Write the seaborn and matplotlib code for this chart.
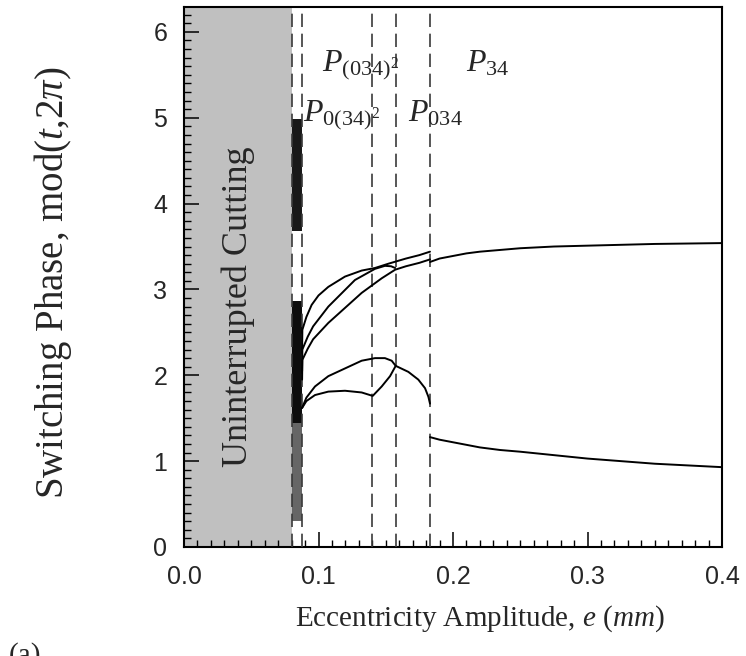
import numpy as np
import pandas as pd
import matplotlib
matplotlib.use("Agg")
import matplotlib.pyplot as plt
from matplotlib.ticker import MultipleLocator, FormatStrFormatter
import seaborn as sns

# switching-phase branches (e in mm, phase in rad)
c1_e = [0.0878, 0.0880, 0.0910, 0.0949, 0.1000, 0.1073, 0.1197, 0.1321, 0.1420, 0.1520, 0.1650, 0.1750, 0.1829]
c1_y = [2.30, 2.53, 2.68, 2.82, 2.93, 3.03, 3.15, 3.22, 3.25, 3.30, 3.36, 3.40, 3.44]
c2_e = [0.0878, 0.0880, 0.0920, 0.0960, 0.1073, 0.1271, 0.1420, 0.1494, 0.1540, 0.1570]
c2_y = [2.05, 2.30, 2.45, 2.57, 2.80, 3.11, 3.24, 3.275, 3.27, 3.25]
c3_e = [0.0878, 0.0880, 0.0920, 0.0960, 0.1073, 0.1321, 0.1470, 0.1570, 0.1650, 0.1750, 0.1829]
c3_y = [1.95, 2.18, 2.31, 2.42, 2.61, 2.96, 3.13, 3.23, 3.27, 3.31, 3.35]
c4_e = [0.0878, 0.0910, 0.0974, 0.1073, 0.1197, 0.1321, 0.1420, 0.1494, 0.1544, 0.1574,
        0.1668, 0.1742, 0.1792, 0.1817, 0.1829]
c4_y = [1.62, 1.74, 1.87, 1.99, 2.08, 2.17, 2.20, 2.20, 2.17, 2.11, 2.04, 1.95, 1.85, 1.75, 1.67]
c5_e = [0.0878, 0.0910, 0.0974, 0.1073, 0.1197, 0.1321, 0.1403, 0.1470, 0.1532, 0.1574]
c5_y = [1.62, 1.70, 1.77, 1.81, 1.82, 1.80, 1.76, 1.87, 1.99, 2.11]
p34_e = [0.1829, 0.1900, 0.2000, 0.2100, 0.2200, 0.2350, 0.2500, 0.2750, 0.3000, 0.3500, 0.4000]
p34_hi = [3.32, 3.36, 3.39, 3.42, 3.44, 3.46, 3.48, 3.50, 3.51, 3.53, 3.54]
p34_lo = [1.28, 1.25, 1.22, 1.19, 1.16, 1.13, 1.11, 1.07, 1.03, 0.97, 0.93]

# chaotic band just after contact is lost: (y low, y high, shade)
chaos_e = [0.0801, 0.0880]
chaos_lo = [3.68, 1.45, 0.30]
chaos_hi = [4.98, 2.86, 1.45]
chaos_alpha = [0.9, 0.95, 0.6]

# boundaries between periodic regimes
bounds = [0.0803, 0.0877, 0.1400, 0.1574, 0.1829]
contact_end = 0.0803

regime_labels = [r"$P_{(034)^2}$", r"$P_{0(34)^2}$", r"$P_{034}$", r"$P_{34}$"]
regime_e = [0.1026, 0.0884, 0.1668, 0.2097]
regime_y = [5.54, 4.96, 4.96, 5.54]

branches = {"c1": (c1_e, c1_y), "c2": (c2_e, c2_y), "c3": (c3_e, c3_y),
            "c4": (c4_e, c4_y), "c5": (c5_e, c5_y),
            "p34_hi": (p34_e, p34_hi), "p34_lo": (p34_e, p34_lo)}
df = pd.concat([pd.DataFrame({"e": e, "phase": y, "branch": k})
                for k, (e, y) in branches.items()], ignore_index=True)

sns.set_style("ticks")
plt.rcParams["font.family"] = ["Liberation Sans", "DejaVu Sans"]
plt.rcParams["mathtext.fontset"] = "custom"
plt.rcParams["mathtext.rm"] = "Liberation Serif"
plt.rcParams["mathtext.it"] = "Liberation Serif:italic"
plt.rcParams["mathtext.bf"] = "Liberation Serif:bold"
serif = ["Liberation Serif", "DejaVu Serif"]

fig = plt.figure(figsize=(7.46, 6.56), dpi=100)
ax = fig.add_axes([184 / 746, 109 / 656, 538 / 746, 540 / 656])

# uninterrupted-cutting zone
ax.axvspan(0, contact_end, color="#c0c0c0", lw=0, zorder=0)
ax.text(contact_end / 2, 2.8, "Uninterrupted Cutting", rotation=90,
        ha="center", va="center", fontsize=26, family=serif)

for lo, hi, a in zip(chaos_lo, chaos_hi, chaos_alpha):
    ax.fill_between(chaos_e, [lo, lo], [hi, hi], color="black", alpha=a, lw=0, zorder=2)

for b in bounds:
    ax.axvline(b, color="#3a3a3a", lw=1.2, dashes=(8, 4), zorder=3)

sns.lineplot(data=df, x="e", y="phase", units="branch", estimator=None,
             sort=False, color="black", lw=1.4, ax=ax, zorder=4)

for lab, x, y in zip(regime_labels, regime_e, regime_y):
    ax.text(x, y, lab, fontsize=23, ha="left", va="baseline")

ax.set_xlim(0, 0.4)
ax.set_ylim(0, 6.29)
ax.xaxis.set_major_locator(MultipleLocator(0.1))
ax.xaxis.set_minor_locator(MultipleLocator(0.01))
ax.xaxis.set_major_formatter(FormatStrFormatter("%.1f"))
ax.yaxis.set_major_locator(MultipleLocator(1))
ax.yaxis.set_minor_locator(MultipleLocator(0.1))
ax.tick_params(which="both", direction="in", top=False, right=False, color="black")
ax.tick_params(which="major", length=11, width=1.1, labelsize=18)
ax.tick_params(which="minor", length=5, width=1.0)
ax.tick_params(axis="y", which="major", pad=12)
ax.tick_params(axis="x", which="major", pad=13)
for s in ax.spines.values():
    s.set_visible(True)
    s.set_linewidth(1.5)
    s.set_color("black")

ax.set_xlabel(r"Eccentricity Amplitude, $e$ ($mm$)", fontsize=21, family=serif)
ax.set_ylabel(r"Switching Phase, mod($t$,2$\pi$)", fontsize=28, family=serif)
ax.xaxis.set_label_coords(0.55, -0.105)
ax.yaxis.set_label_coords(-0.205, 0.49)

fig.text(0.012, 0.0, "(a)", fontsize=21, family=serif, ha="left", va="center")

fig.savefig("out.png", dpi=100)
